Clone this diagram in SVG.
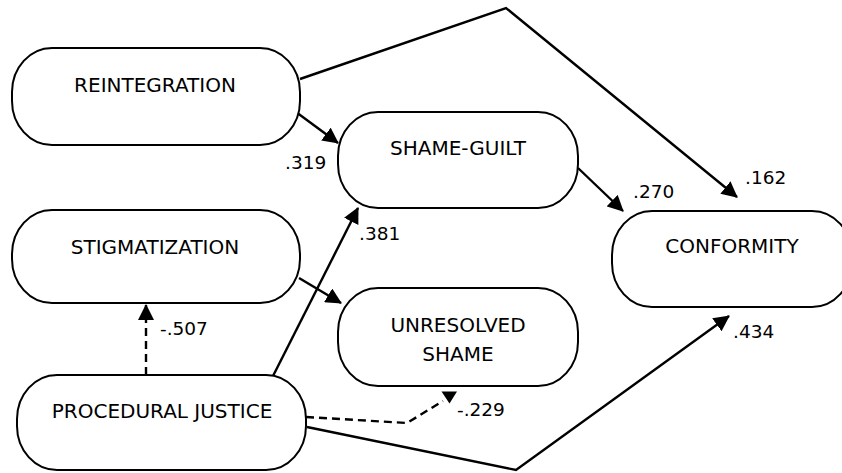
<svg xmlns="http://www.w3.org/2000/svg" width="842" height="473" viewBox="0 0 842 473">
<style>
.node rect{fill:#fff;stroke:#000;stroke-width:2}
.node text{font-family:"DejaVu Sans","Liberation Sans",sans-serif;font-size:20px;text-anchor:middle;fill:#000}
.lbl{font-family:"DejaVu Sans","Liberation Sans",sans-serif;font-size:18.5px;fill:#000}
.c{fill:none;stroke:#000;stroke-width:2.4}
.d{stroke-dasharray:8 5}
</style>
<defs>
<marker id="ah" markerUnits="userSpaceOnUse" markerWidth="16" markerHeight="16" viewBox="0 0 16 16" refX="15" refY="8" orient="auto">
<path d="M0,0 L16,8 L0,16 z" fill="#000"/>
</marker>
</defs>
<rect width="842" height="473" fill="#fff"/>
<g id="connectors">
<path class="c" d="M296,112 L338,143" marker-end="url(#ah)"/>
<path class="c" d="M300,79 L506,8 L737,197" marker-end="url(#ah)"/>
<path class="c" d="M578,168 L623,211" marker-end="url(#ah)"/>
<path class="c" d="M273,376 L358,208" marker-end="url(#ah)"/>
<path class="c" d="M299,278 L341,303" marker-end="url(#ah)"/>
<path class="c d" d="M146,375 L146,305" marker-end="url(#ah)"/>
<path class="c d" d="M306,417 L407,423 L443,401"/>
<polygon points="441.5,391.5 457,391.5 449.5,403.5" fill="#000"/>
<path class="c" d="M307,427 L516,470 L729,316" marker-end="url(#ah)"/>
<text class="lbl" x="285" y="169">.319</text>
<text class="lbl" x="359" y="240">.381</text>
<text class="lbl" x="633" y="198">.270</text>
<text class="lbl" x="745" y="184">.162</text>
<text class="lbl" x="160" y="335">-.507</text>
<text class="lbl" x="457" y="416">-.229</text>
<text class="lbl" x="733" y="338">.434</text>
</g>
<g id="reintegration" class="node">
<rect x="12" y="48" width="288" height="97" rx="40" ry="44"/>
<text x="155" y="92">REINTEGRATION</text>
</g>
<g id="shame-guilt" class="node">
<rect x="338" y="112" width="240" height="96" rx="40" ry="44"/>
<text x="458" y="155">SHAME-GUILT</text>
</g>
<g id="stigmatization" class="node">
<rect x="12" y="210" width="288" height="93" rx="40" ry="44"/>
<text x="155" y="254">STIGMATIZATION</text>
</g>
<g id="unresolved-shame" class="node">
<rect x="338" y="288" width="240" height="98" rx="40" ry="44"/>
<text x="458" y="332">UNRESOLVED</text>
<text x="458" y="361">SHAME</text>
</g>
<g id="procedural-justice" class="node">
<rect x="17" y="375" width="289" height="95" rx="40" ry="44"/>
<text x="162" y="418">PROCEDURAL JUSTICE</text>
</g>
<g id="conformity" class="node">
<rect x="612" y="211" width="240" height="96" rx="40" ry="44"/>
<text x="732" y="253">CONFORMITY</text>
</g>
</svg>
